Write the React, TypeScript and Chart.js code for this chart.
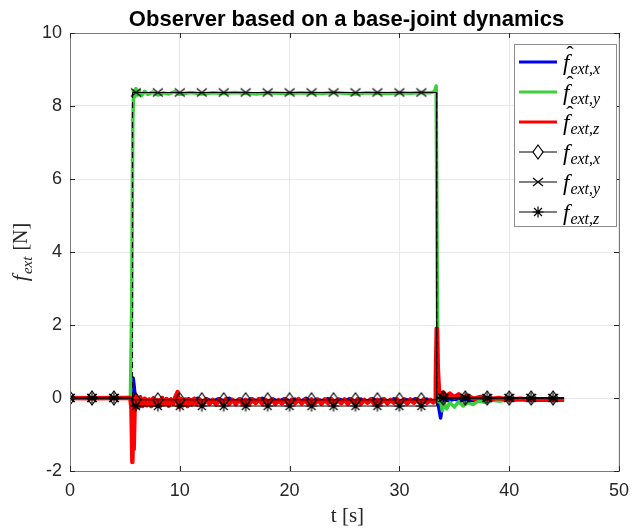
import React, { useEffect, useRef } from 'react';
import { Chart, registerables } from 'chart.js';
Chart.register(...registerables);

const chartTitle = 'Observer based on a base-joint dynamics';
const xAxisTitle = 't [s]';
const yAxisTitleMain = 'f';
const yAxisTitleSub = 'ext';
const yAxisTitleUnit = ' [N]';
const xRange = [0, 50];
const yRange = [-2, 10];
const xStep = 10;
const yStep = 2;

// estimated forces (t, value)
const hatFx: [number, number][] = [
  [0, 0], [2, 0.01], [4, 0], [5.5, 0], [5.65, 0.05], [5.75, 0.55], [5.85, 0.3], [5.95, -0.05],
  [6.1, -0.15], [6.3, -0.25], [6.5, -0.12], [6.8, -0.02], [7.2, -0.1], [7.6, -0.01], [8, -0.09],
  [8.4, -0.02], [8.8, -0.1], [9.2, -0.03], [9.6, -0.09], [10, -0.01], [10.4, -0.1], [10.8, -0.02],
  [11.2, -0.08], [11.6, -0.01], [12, -0.09], [12.5, -0.03], [13, -0.1], [13.5, -0.02], [14, -0.08],
  [14.5, -0.01], [15, -0.09], [15.5, -0.03], [16, -0.1], [16.5, -0.02], [17, -0.08], [17.5, -0.01],
  [18, -0.09], [18.5, -0.03], [19, -0.1], [19.5, -0.02], [20, -0.08], [20.5, -0.03], [21, -0.09],
  [21.5, -0.01], [22, -0.1], [22.5, -0.03], [23, -0.08], [23.5, -0.02], [24, -0.1], [24.5, -0.03],
  [25, -0.08], [25.5, -0.02], [26, -0.09], [26.5, -0.03], [27, -0.1], [27.5, -0.02], [28, -0.08],
  [28.5, -0.03], [29, -0.09], [29.5, -0.02], [30, -0.1], [30.5, -0.03], [31, -0.08], [31.5, -0.02],
  [32, -0.09], [32.5, -0.03], [33, -0.08], [33.35, -0.05], [33.55, -0.2], [33.75, -0.55],
  [33.95, -0.15], [34.2, 0.02], [34.5, -0.08], [35, -0.03], [35.5, -0.07], [36, -0.04], [37, -0.08],
  [38, -0.05], [39, -0.07], [40, -0.04], [41, -0.06], [42, -0.04], [43, -0.06], [44, -0.05], [45, -0.05],
];
const hatFy: [number, number][] = [
  [0, 0], [1, 0.01], [2, 0], [3, 0.01], [4, 0], [5, 0], [5.5, 0.02], [5.62, 2.5], [5.72, 7.6],
  [5.8, 8.42], [5.9, 8.25], [6.0, 8.48], [6.15, 8.3], [6.3, 8.42], [6.5, 8.28], [6.8, 8.4],
  [7.1, 8.32], [7.5, 8.38], [8, 8.3], [8.5, 8.36], [9, 8.33], [9.5, 8.39], [10, 8.32],
  [10.5, 8.35], [11, 8.37], [12, 8.33], [13, 8.36], [14, 8.34], [15, 8.37], [16, 8.35],
  [17, 8.33], [18, 8.36], [19, 8.35], [20, 8.34], [21, 8.36], [22, 8.35], [23, 8.34],
  [24, 8.37], [25, 8.35], [26, 8.33], [27, 8.36], [28, 8.35], [29, 8.34], [30, 8.36],
  [31, 8.35], [32, 8.37], [32.8, 8.36], [33.2, 8.4], [33.35, 8.55], [33.45, 3.0], [33.55, -0.1],
  [33.7, 0.05], [33.9, -0.35], [34.1, -0.15], [34.3, -0.3], [34.6, -0.12], [35, -0.25],
  [35.4, -0.1], [35.8, -0.22], [36.2, -0.12], [36.7, -0.18], [37.2, -0.08], [37.8, -0.12],
  [38.5, -0.06], [39.2, -0.08], [40, -0.05], [41, -0.06], [42, -0.04], [43, -0.05], [44, -0.04],
  [45, -0.05],
];
const hatFz: [number, number][] = [
  [0, 0], [2, -0.01], [4, 0], [5.5, 0], [5.6, -0.3], [5.68, -1.75], [5.74, -0.6], [5.8, -1.4],
  [5.88, -0.3], [5.95, 0.05], [6.0, -0.05], [6.2, -0.25], [6.4, 0.02], [6.6, -0.22], [6.8, -0.02],
  [7.0, -0.2], [7.2, -0.04], [7.4, -0.22], [7.6, -0.01], [7.8, -0.18], [8.0, -0.06], [8.2, -0.22],
  [8.4, 0.0], [8.6, -0.17], [8.8, -0.03], [9.0, -0.21], [9.2, -0.05], [9.4, -0.16], [9.6, 0.03],
  [9.8, 0.16], [9.9, -0.24], [10.1, -0.03], [10.3, -0.2], [10.5, -0.04], [10.7, -0.22], [10.9, -0.06],
  [11.1, -0.18], [11.3, -0.02], [11.5, -0.17], [11.8, -0.04], [12.1, -0.19], [12.4, -0.03],
  [12.7, -0.16], [13.0, -0.05], [13.3, -0.18], [13.6, -0.04], [13.9, -0.15], [14.2, -0.03],
  [14.5, -0.16], [14.8, -0.05], [15.1, -0.17], [15.4, -0.04], [15.7, -0.15], [16.0, -0.05],
  [16.3, -0.17], [16.6, -0.04], [16.9, -0.14], [17.2, -0.03], [17.5, -0.16], [17.8, -0.05],
  [18.1, -0.15], [18.4, -0.04], [18.7, -0.16], [19.0, -0.06], [19.3, -0.15], [19.6, -0.04],
  [19.9, -0.17], [20.2, -0.05], [20.5, -0.14], [20.8, -0.03], [21.1, -0.15], [21.4, -0.05],
  [21.7, -0.16], [22.0, -0.04], [22.3, -0.14], [22.6, -0.05], [22.9, -0.16], [23.2, -0.04],
  [23.5, -0.14], [23.8, -0.03], [24.1, -0.15], [24.4, -0.05], [24.7, -0.14], [25.0, -0.04],
  [25.3, -0.16], [25.6, -0.05], [25.9, -0.14], [26.2, -0.03], [26.5, -0.15], [26.8, -0.05],
  [27.1, -0.13], [27.4, -0.04], [27.7, -0.15], [28.0, -0.05], [28.3, -0.14], [28.6, -0.03],
  [28.9, -0.15], [29.2, -0.05], [29.5, -0.13], [29.8, -0.04], [30.1, -0.14], [30.4, -0.05],
  [30.7, -0.15], [31.0, -0.04], [31.3, -0.13], [31.6, -0.05], [31.9, -0.14], [32.2, -0.04],
  [32.5, -0.13], [32.8, -0.05], [33.1, -0.12], [33.25, -0.06], [33.32, 0.5], [33.4, 1.9],
  [33.5, 0.8], [33.6, 0.2], [33.8, 0.08], [34, 0.15], [34.3, 0.05], [34.6, 0.12], [35, 0.02],
  [35.4, 0.1], [35.8, 0], [36.2, 0.06], [36.8, -0.02], [37.4, 0.03], [38, -0.04], [39, 0],
  [40, -0.04], [41, -0.02], [42, -0.05], [43, -0.04], [44, -0.05], [45, -0.05],
];

// reference forces
const markerTimes = [0, 2, 4, 6, 8, 10, 12, 14, 16, 18, 20, 22, 24, 26, 28, 30, 32, 34, 36, 38, 40, 42, 44];
const stepTimes = [5.7, 33.4];
const endTime = 45;
const refXLevels = [0, -0.05, 0];
const refYLevels = [0, 8.37, 0];
const refZLevels = [0, -0.22, 0];

const colors = { x: '#0000f0', y: '#3ccf3c', z: '#ff0000', ref: '#000000' };

type Pt = { x: number; y: number; m?: boolean };

function buildRef(levels: number[]): Pt[] {
  const pts: Pt[] = [];
  const [t1, t2] = stepTimes;
  markerTimes.filter((t) => t < t1).forEach((t) => pts.push({ x: t, y: levels[0], m: true }));
  pts.push({ x: t1, y: levels[0] });
  pts.push({ x: t1, y: levels[1] });
  markerTimes.filter((t) => t > t1 && t < t2).forEach((t) => pts.push({ x: t, y: levels[1], m: true }));
  pts.push({ x: t2, y: levels[1] });
  pts.push({ x: t2, y: levels[2] });
  markerTimes.filter((t) => t > t2).forEach((t) => pts.push({ x: t, y: levels[2], m: true }));
  pts.push({ x: endTime, y: levels[2] });
  return pts;
}
const toPts = (arr: [number, number][]): Pt[] => arr.map(([x, y]) => ({ x, y }));

const legendEntries = [
  { hat: true, sub: 'ext,x', color: colors.x, marker: '' },
  { hat: true, sub: 'ext,y', color: colors.y, marker: '' },
  { hat: true, sub: 'ext,z', color: colors.z, marker: '' },
  { hat: false, sub: 'ext,x', color: colors.ref, marker: 'diamond' },
  { hat: false, sub: 'ext,y', color: colors.ref, marker: 'cross' },
  { hat: false, sub: 'ext,z', color: colors.ref, marker: 'star' },
];

const SERIF = "'Liberation Serif', 'DejaVu Serif', serif";
const SANS = "'Liberation Sans', Arial, sans-serif";

function drawMarker(ctx: CanvasRenderingContext2D, kind: string, cx: number, cy: number, fill: boolean) {
  ctx.save();
  ctx.strokeStyle = '#000';
  ctx.lineWidth = 1.2;
  ctx.beginPath();
  if (kind === 'diamond') {
    ctx.moveTo(cx, cy - 7);
    ctx.lineTo(cx + 5, cy);
    ctx.lineTo(cx, cy + 7);
    ctx.lineTo(cx - 5, cy);
    ctx.closePath();
    if (fill) { ctx.fillStyle = '#fff'; ctx.fill(); }
  } else if (kind === 'cross') {
    ctx.moveTo(cx - 5, cy - 4); ctx.lineTo(cx + 5, cy + 4);
    ctx.moveTo(cx + 5, cy - 4); ctx.lineTo(cx - 5, cy + 4);
  } else if (kind === 'star') {
    const r = 5.5;
    ctx.moveTo(cx - r, cy); ctx.lineTo(cx + r, cy);
    ctx.moveTo(cx, cy - r); ctx.lineTo(cx, cy + r);
    const d = r * 0.72;
    ctx.moveTo(cx - d, cy - d); ctx.lineTo(cx + d, cy + d);
    ctx.moveTo(cx + d, cy - d); ctx.lineTo(cx - d, cy + d);
  }
  ctx.stroke();
  ctx.restore();
}

function markerImage(kind: string): HTMLCanvasElement {
  const c = document.createElement('canvas');
  c.width = 16;
  c.height = 18;
  const g = c.getContext('2d')!;
  drawMarker(g, kind, 8, 9, false);
  return c;
}

const decorPlugin = {
  id: 'decor',
  afterDraw(chart: any) {
    const { ctx, chartArea: a } = chart;
    ctx.save();
    // box
    ctx.strokeStyle = '#7a7a7a';
    ctx.lineWidth = 1;
    ctx.strokeRect(Math.round(a.left) + 0.5, Math.round(a.top) + 0.5, Math.round(a.right - a.left), Math.round(a.bottom - a.top));
    // inner ticks
    ctx.strokeStyle = '#262626';
    ctx.beginPath();
    const tl = 5;
    chart.scales.x.ticks.forEach((t: any) => {
      const px = Math.round(chart.scales.x.getPixelForValue(t.value)) + 0.5;
      ctx.moveTo(px, a.bottom); ctx.lineTo(px, a.bottom - tl);
      ctx.moveTo(px, a.top); ctx.lineTo(px, a.top + tl);
    });
    chart.scales.y.ticks.forEach((t: any) => {
      const py = Math.round(chart.scales.y.getPixelForValue(t.value)) + 0.5;
      ctx.moveTo(a.left, py); ctx.lineTo(a.left + tl, py);
      ctx.moveTo(a.right, py); ctx.lineTo(a.right - tl, py);
    });
    ctx.stroke();

    // title
    ctx.fillStyle = '#000';
    ctx.font = `bold 22px ${SANS}`;
    ctx.textAlign = 'center';
    ctx.textBaseline = 'alphabetic';
    ctx.fillText(chartTitle, (a.left + a.right) / 2 + 2, 26);

    // x title
    ctx.fillStyle = '#262626';
    ctx.font = `21px ${SERIF}`;
    ctx.fillText(xAxisTitle, (a.left + a.right) / 2 + 3, 522);

    // y title
    ctx.save();
    ctx.translate(27, (a.top + a.bottom) / 2);
    ctx.rotate(-Math.PI / 2);
    ctx.textAlign = 'left';
    ctx.font = `italic 22px ${SERIF}`;
    const w1 = ctx.measureText(yAxisTitleMain).width;
    ctx.font = `italic 15px ${SERIF}`;
    const w2 = ctx.measureText(yAxisTitleSub).width;
    ctx.font = `20px ${SERIF}`;
    const w3 = ctx.measureText(yAxisTitleUnit).width;
    let x0 = -(w1 + w2 + w3 + 2) / 2;
    ctx.font = `italic 22px ${SERIF}`;
    ctx.fillText(yAxisTitleMain, x0, 0);
    x0 += w1 + 1;
    ctx.font = `italic 15px ${SERIF}`;
    ctx.fillText(yAxisTitleSub, x0, 5);
    x0 += w2 + 1;
    ctx.font = `20px ${SERIF}`;
    ctx.fillText(yAxisTitleUnit, x0, 0);
    ctx.restore();

    // legend
    const lx = 514, ly = 44, lw = 102, lh = 182;
    ctx.fillStyle = '#fff';
    ctx.fillRect(lx, ly, lw, lh);
    ctx.strokeStyle = '#8c8c8c';
    ctx.lineWidth = 1;
    ctx.strokeRect(lx + 0.5, ly + 0.5, lw, lh);
    legendEntries.forEach((e, i) => {
      const y = 62 + i * 30;
      ctx.beginPath();
      ctx.strokeStyle = e.color;
      ctx.lineWidth = e.hat ? 3 : 1;
      ctx.moveTo(519, y);
      ctx.lineTo(557, y);
      ctx.stroke();
      if (e.marker) drawMarker(ctx, e.marker, 538, y, true);
      ctx.fillStyle = '#000';
      ctx.textAlign = 'left';
      ctx.font = `italic 23px ${SERIF}`;
      const fw = ctx.measureText('f').width;
      ctx.fillText('f', 563, y + 8);
      if (e.hat) {
        ctx.textAlign = 'center';
        ctx.font = `22px ${SERIF}`;
        ctx.fillText('\u02C6', 570, y - 1);
        ctx.textAlign = 'left';
      }
      ctx.font = `italic 16px ${SERIF}`;
      ctx.fillText(e.sub, 563 + fw + 1, y + 12);
    });
    ctx.restore();
  },
};

export default function App() {
  const ref = useRef<HTMLCanvasElement | null>(null);
  useEffect(() => {
    if (!ref.current) return;
    const dashSeg = { borderDash: (c: any) => (Math.abs(c.p0.parsed.y - c.p1.parsed.y) > 1 ? [6, 4] : undefined) };
    const markerRadius = (r: number) => (c: any) => (c.raw && c.raw.m ? r : 0);
    const chart = new Chart(ref.current, {
      type: 'line',
      data: {
        datasets: [
          { label: 'f_ext,x', data: buildRef(refXLevels), borderColor: colors.ref, borderWidth: 1, pointStyle: markerImage('diamond'), pointRadius: markerRadius(7) as any, segment: dashSeg as any, order: 0 },
          { label: 'f_ext,y', data: buildRef(refYLevels), borderColor: colors.ref, borderWidth: 1, pointStyle: markerImage('cross'), pointRadius: markerRadius(6) as any, segment: dashSeg as any, order: 0 },
          { label: 'f_ext,z', data: buildRef(refZLevels), borderColor: colors.ref, borderWidth: 1, pointStyle: markerImage('star'), pointRadius: markerRadius(6) as any, segment: dashSeg as any, order: 0 },
          { label: 'hat f_ext,z', data: toPts(hatFz), borderColor: colors.z, borderWidth: 4.5, pointRadius: 0, order: 1 },
          { label: 'hat f_ext,y', data: toPts(hatFy), borderColor: colors.y, borderWidth: 3.5, pointRadius: 0, order: 2 },
          { label: 'hat f_ext,x', data: toPts(hatFx), borderColor: colors.x, borderWidth: 3.5, pointRadius: 0, order: 3 },
        ] as any,
      },
      options: {
        animation: false,
        responsive: false,
        maintainAspectRatio: false,
        layout: { padding: { top: 33, right: 13, left: 0, bottom: 0 } },
        elements: { line: { tension: 0, borderJoinStyle: 'round' as any } },
        plugins: { legend: { display: false }, tooltip: { enabled: false }, title: { display: false } },
        scales: {
          x: {
            type: 'linear',
            min: xRange[0],
            max: xRange[1],
            ticks: { stepSize: xStep, color: '#262626', font: { family: SANS, size: 18 }, padding: 9, maxRotation: 0 },
            grid: { color: '#e8e8e8', drawTicks: false },
            border: { display: false },
            afterFit: (s: any) => { s.height = 58; },
          },
          y: {
            type: 'linear',
            min: yRange[0],
            max: yRange[1],
            ticks: { stepSize: yStep, color: '#262626', font: { family: SANS, size: 18 }, padding: 8 },
            grid: { color: '#e8e8e8', drawTicks: false },
            border: { display: false },
            afterFit: (s: any) => { s.width = 70; },
          },
        },
      },
      plugins: [decorPlugin],
    });
    return () => chart.destroy();
  }, []);
  return (
    <div style={{ position: 'absolute', left: 0, top: 0, width: 638, height: 529, background: '#fff' }}>
      <canvas ref={ref} width={638} height={529} style={{ width: 638, height: 529, display: 'block' }} />
    </div>
  );
}
